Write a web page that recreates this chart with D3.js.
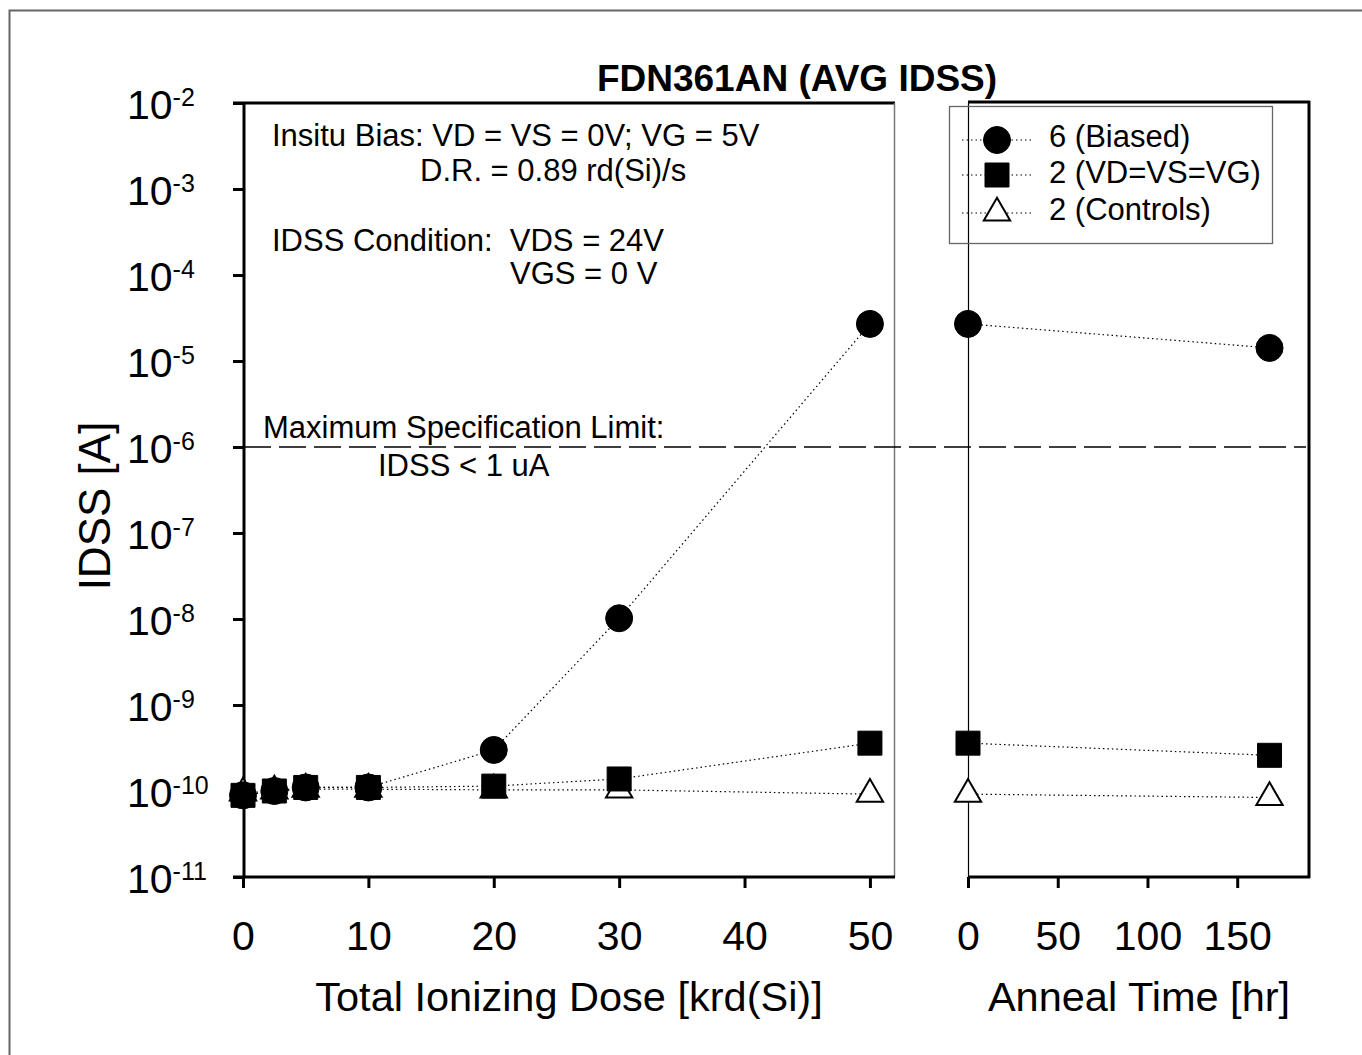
<!DOCTYPE html>
<html><head><meta charset="utf-8">
<script src="https://cdn.jsdelivr.net/npm/d3@7"></script>
<style>body{margin:0;background:#fff;} svg{display:block;font-family:"Liberation Sans",Arial,sans-serif;}</style>
</head><body>
<svg id="c" width="1362" height="1055"></svg>
<script>
// Data
const doseX = [0, 2.5, 5, 10, 20, 30, 50];
const annealX = [0, 168];
const biasedDose = [8.9e-11, 1.0e-10, 1.1e-10, 1.1e-10, 3.0e-10, 1.02e-8, 2.7e-5];
const biasedAnneal = [2.7e-5, 1.42e-5];
const vdvsvgDose = [8.9e-11, 1.0e-10, 1.1e-10, 1.1e-10, 1.14e-10, 1.38e-10, 3.6e-10];
const vdvsvgAnneal = [3.6e-10, 2.6e-10];
const controlsDose = [9.5e-11, 1.0e-10, 1.05e-10, 1.05e-10, 1.03e-10, 1.03e-10, 9.2e-11];
const controlsAnneal = [9.2e-11, 8.4e-11];
const yTicks = [-11, -10, -9, -8, -7, -6, -5, -4, -3, -2];
const doseTicks = [0, 10, 20, 30, 40, 50];
const annealTicks = [0, 50, 100, 150];
const specLimit = 1e-6;
const legendLabels = ["6 (Biased)", "2 (VD=VS=VG)", "2 (Controls)"];

const svg = d3.select("#c");
const yTop = 103, yBot = 877;
const y = d3.scaleLog().domain([1e-11, 1e-2]).range([yBot, yTop]);
const xL = d3.scaleLinear().domain([0, 52]).range([243, 895]);
const xR = d3.scaleLinear().domain([0, 190]).range([968, 1309]);
const FONT = "Liberation Sans, Arial, sans-serif";

// outer frame
svg.append("rect").attr("x", 9.5).attr("y", 10.5).attr("width", 1400).attr("height", 1100)
  .attr("fill", "none").attr("stroke", "#666").attr("stroke-width", 2);

// Title
svg.append("text").attr("x", 797).attr("y", 91).attr("text-anchor", "middle")
  .attr("font-weight", "bold").attr("font-size", 37).text("FDN361AN (AVG IDSS)");

// Left panel frame
const thick = 3;
svg.append("line").attr("x1", 233).attr("x2", 895).attr("y1", yTop).attr("y2", yTop).attr("stroke", "#000").attr("stroke-width", thick);
svg.append("line").attr("x1", 894.5).attr("x2", 894.5).attr("y1", yTop).attr("y2", yBot).attr("stroke", "#777").attr("stroke-width", 1.5);

// Y axis
const yAxis = d3.axisLeft(y).tickValues(yTicks.map(e => Math.pow(10, e))).tickSize(11).tickFormat("");
const gy = svg.append("g").attr("transform", "translate(244,0)").call(yAxis);
gy.select(".domain").attr("stroke-width", thick).attr("d", `M0,${yTop}V${yBot}`);
gy.selectAll(".tick line").attr("stroke-width", thick);
gy.selectAll(".tick").each(function(d) {
  const e = Math.round(Math.log10(d));
  const t = d3.select(this).append("text").attr("fill", "#000").attr("x", -117).attr("dy", 15)
    .attr("text-anchor", "start").attr("font-size", 41).attr("font-family", FONT);
  t.append("tspan").text("10");
  t.append("tspan").attr("font-size", 25).attr("dy", -13).text(e);
});

// Bottom axes
const gxL = svg.append("g").attr("transform", `translate(0,${yBot})`)
  .call(d3.axisBottom(xL).tickValues(doseTicks).tickSize(11).tickFormat(d3.format("d")));
gxL.select(".domain").attr("stroke-width", thick).attr("d", `M233,0H895`);
gxL.selectAll(".tick line").attr("stroke-width", thick);
gxL.selectAll(".tick text").attr("font-size", 41).attr("dy", 0).attr("y", 73).attr("fill", "#000")
  .attr("font-family", FONT);

const gxR = svg.append("g").attr("transform", `translate(0,${yBot})`)
  .call(d3.axisBottom(xR).tickValues(annealTicks).tickSize(11).tickFormat(d3.format("d")));
gxR.select(".domain").attr("stroke-width", thick).attr("d", `M968,0H1310`);
gxR.selectAll(".tick line").attr("stroke-width", thick);
gxR.selectAll(".tick text").attr("font-size", 41).attr("dy", 0).attr("y", 73).attr("fill", "#000")
  .attr("font-family", FONT);

// Right panel frame
svg.append("line").attr("x1", 968).attr("x2", 1310).attr("y1", yTop - 1).attr("y2", yTop - 1).attr("stroke", "#000").attr("stroke-width", thick);
svg.append("line").attr("x1", 1309).attr("x2", 1309).attr("y1", yTop - 2).attr("y2", yBot + 1).attr("stroke", "#000").attr("stroke-width", thick);
svg.append("line").attr("x1", 968.5).attr("x2", 968.5).attr("y1", yTop).attr("y2", yBot).attr("stroke", "#000").attr("stroke-width", 1.2);

// Axis labels
svg.append("text").attr("x", 569).attr("y", 1011).attr("text-anchor", "middle").attr("font-size", 41.5)
  .text("Total Ionizing Dose [krd(Si)]");
svg.append("text").attr("x", 1139).attr("y", 1011).attr("text-anchor", "middle").attr("font-size", 41.5)
  .text("Anneal Time [hr]");
svg.append("text").attr("transform", "translate(110,506) rotate(-90)").attr("text-anchor", "middle")
  .attr("font-size", 44).text("IDSS [A]");

// Spec limit
svg.append("line").attr("x1", 244).attr("x2", 1306).attr("y1", y(specLimit)).attr("y2", y(specLimit))
  .attr("stroke", "#000").attr("stroke-width", 1.3).attr("stroke-dasharray", "27,8");

// Annotations
const ann = [
  ["Insitu Bias: VD = VS = 0V; VG = 5V", 272, 146],
  ["D.R. = 0.89 rd(Si)/s", 420, 181],
  ["IDSS Condition:  VDS = 24V", 272, 251],
  ["VGS = 0 V", 510, 284],
  ["Maximum Specification Limit:", 263, 438],
  ["IDSS < 1 uA", 378, 476]
];
ann.forEach(a => svg.append("text").attr("x", a[1]).attr("y", a[2]).attr("font-size", 31)
  .style("white-space", "pre").text(a[0]));

// Series
const series = [
  {name: legendLabels[0], shape: "circle", dose: biasedDose, anneal: biasedAnneal},
  {name: legendLabels[1], shape: "square", dose: vdvsvgDose, anneal: vdvsvgAnneal},
  {name: legendLabels[2], shape: "triangle", dose: controlsDose, anneal: controlsAnneal}
];
const sym = {
  circle: d3.symbol().type(d3.symbolCircle).size(Math.PI * 13.5 * 13.5),
  square: d3.symbol().type(d3.symbolSquare).size(24 * 24),
  triangle: d3.symbol().type(d3.symbolTriangle).size(300)
};
const line = (xs) => d3.line().x(d => xs(d[0])).y(d => y(d[1]));

series.forEach(s => {
  svg.append("path").datum(doseX.map((x, i) => [x, s.dose[i]])).attr("d", line(xL))
    .attr("fill", "none").attr("stroke", "#000").attr("stroke-width", 1.2).attr("stroke-dasharray", "1.5,3");
  svg.append("path").datum(annealX.map((x, i) => [x, s.anneal[i]])).attr("d", line(xR))
    .attr("fill", "none").attr("stroke", "#000").attr("stroke-width", 1.2).attr("stroke-dasharray", "1.5,3");
});
[2, 1, 0].forEach(k => {
  const s = series[k];
  const pts = doseX.map((x, i) => [xL(x), y(s.dose[i])]).concat(annealX.map((x, i) => [xR(x), y(s.anneal[i])]));
  svg.selectAll(null).data(pts).enter().append("path")
    .attr("transform", d => `translate(${d[0]},${d[1]})`)
    .attr("d", sym[s.shape]())
    .attr("fill", s.shape === "triangle" ? "#fff" : "#000")
    .attr("stroke", "#000").attr("stroke-width", s.shape === "triangle" ? 2 : 1);
});

// Legend
const lg = svg.append("g");
lg.append("rect").attr("x", 949.5).attr("y", 106.5).attr("width", 323).attr("height", 137)
  .attr("fill", "none").attr("stroke", "#666").attr("stroke-width", 1.3);
const ly = [140, 175, 213];
const lbase = [147, 183, 220];
series.forEach((s, i) => {
  lg.append("line").attr("x1", 962).attr("x2", 1032).attr("y1", ly[i]).attr("y2", ly[i])
    .attr("stroke", "#000").attr("stroke-width", 1.2).attr("stroke-dasharray", "1.5,3");
  lg.append("path").attr("transform", `translate(997,${ly[i]})`).attr("d", sym[s.shape]())
    .attr("fill", s.shape === "triangle" ? "#fff" : "#000").attr("stroke", "#000")
    .attr("stroke-width", s.shape === "triangle" ? 2 : 1);
  lg.append("text").attr("x", 1049).attr("y", lbase[i]).attr("font-size", 31).text(s.name);
});
</script>
</body></html>
